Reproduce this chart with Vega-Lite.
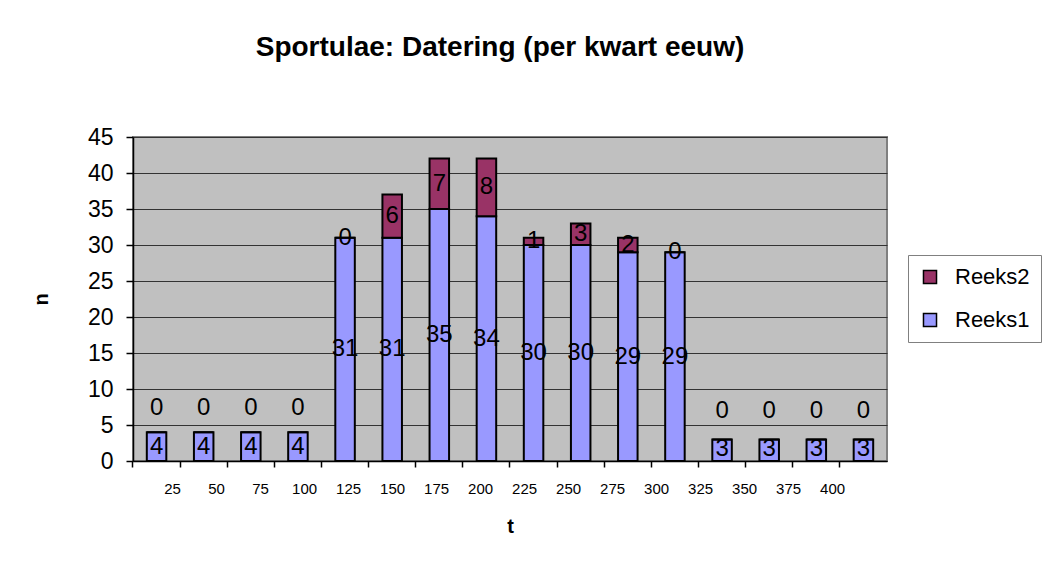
{
  "$schema": "https://vega.github.io/schema/vega-lite/v6.json",
  "width": 754,
  "height": 324,
  "autosize": "none",
  "padding": {"left": 133, "top": 137, "right": 155, "bottom": 124},
  "background": "white",
  "title": {
    "text": "Sportulae: Datering (per kwart eeuw)",
    "font": "Liberation Sans",
    "fontSize": 28,
    "fontWeight": "bold",
    "color": "black",
    "anchor": "middle",
    "dx": -10,
    "offset": 64
  },
  "data": {
    "values": [
      {"t": "25", "Reeks1": 4, "Reeks2": 0},
      {"t": "50", "Reeks1": 4, "Reeks2": 0},
      {"t": "75", "Reeks1": 4, "Reeks2": 0},
      {"t": "100", "Reeks1": 4, "Reeks2": 0},
      {"t": "125", "Reeks1": 31, "Reeks2": 0},
      {"t": "150", "Reeks1": 31, "Reeks2": 6},
      {"t": "175", "Reeks1": 35, "Reeks2": 7},
      {"t": "200", "Reeks1": 34, "Reeks2": 8},
      {"t": "225", "Reeks1": 30, "Reeks2": 1},
      {"t": "250", "Reeks1": 30, "Reeks2": 3},
      {"t": "275", "Reeks1": 29, "Reeks2": 2},
      {"t": "300", "Reeks1": 29, "Reeks2": 0},
      {"t": "325", "Reeks1": 3, "Reeks2": 0},
      {"t": "350", "Reeks1": 3, "Reeks2": 0},
      {"t": "375", "Reeks1": 3, "Reeks2": 0},
      {"t": "400", "Reeks1": 3, "Reeks2": 0}
    ]
  },
  "encoding": {
    "x": {
      "field": "t",
      "type": "ordinal",
      "sort": null,
      "scale": {"paddingInner": 0.586, "paddingOuter": 0.293},
      "axis": {
        "title": "t",
        "titleFont": "Liberation Sans",
        "titleFontSize": 20,
        "titleFontWeight": "bold",
        "titleColor": "black",
        "titlePadding": 20,
        "labelAngle": 0,
        "labelFont": "Liberation Sans",
        "labelFontSize": 15,
        "labelColor": "black",
        "labelPadding": 14,
        "labelOffset": {"expr": "16 - 3.125*(toNumber(datum.value)/25 - 1)"},
        "bandPosition": -0.708,
        "domainColor": "black",
        "domainWidth": 1.5,
        "tickColor": "black",
        "tickSize": 6,
        "tickWidth": 1.5,
        "grid": false
      }
    }
  },
  "layer": [
    {
      "transform": [
        {"fold": ["Reeks1", "Reeks2"], "as": ["series", "value"]}
      ],
      "mark": {"type": "bar", "stroke": "black", "strokeWidth": 2},
      "encoding": {
        "y": {
          "field": "value",
          "type": "quantitative",
          "stack": "zero",
          "scale": {"domain": [0, 45], "nice": false},
          "axis": {
            "title": "n",
            "titleFont": "Liberation Sans",
            "titleFontSize": 20,
            "titleFontWeight": "bold",
            "titleColor": "black",
            "titlePadding": 36,
            "values": [0, 5, 10, 15, 20, 25, 30, 35, 40, 45],
            "labelOverlap": false,
            "labelFont": "Liberation Sans",
            "labelFontSize": 23,
            "labelColor": "black",
            "labelPadding": 13,
            "domainColor": "black",
            "domainWidth": 1.5,
            "tickColor": "black",
            "tickSize": 7,
            "tickWidth": 1.5,
            "grid": true,
            "gridColor": "#333333",
            "gridWidth": 1
          }
        },
        "color": {
          "field": "series",
          "type": "nominal",
          "scale": {"domain": ["Reeks2", "Reeks1"], "range": ["#993366", "#9999FF"]},
          "legend": {
            "title": null,
            "orient": "none",
            "legendX": 775,
            "legendY": 118,
            "labelFont": "Liberation Sans",
            "labelFontSize": 22,
            "labelColor": "black",
            "labelOffset": 14,
            "symbolType": "square",
            "symbolSize": 170,
            "symbolStrokeColor": "black",
            "symbolStrokeWidth": 1.5,
            "symbolOpacity": 1,
            "rowPadding": 21,
            "padding": 11,
            "strokeColor": "#808080",
            "fillColor": "white"
          }
        },
        "order": {"field": "series", "sort": "ascending"}
      }
    },
    {
      "transform": [
        {"calculate": "max(datum.Reeks1 / 2, 1.6)", "as": "r1y"}
      ],
      "mark": {"type": "text", "font": "Liberation Sans", "fontSize": 24, "color": "black", "baseline": "middle", "align": "center"},
      "encoding": {
        "y": {
          "field": "r1y",
          "type": "quantitative",
          "stack": null,
          "axis": {
            "title": "n",
            "titleFont": "Liberation Sans",
            "titleFontSize": 20,
            "titleFontWeight": "bold",
            "titleColor": "black",
            "titlePadding": 36,
            "values": [0, 5, 10, 15, 20, 25, 30, 35, 40, 45],
            "labelOverlap": false,
            "labelFont": "Liberation Sans",
            "labelFontSize": 23,
            "labelColor": "black",
            "labelPadding": 13,
            "domainColor": "black",
            "domainWidth": 1.5,
            "tickColor": "black",
            "tickSize": 7,
            "tickWidth": 1.5,
            "grid": true,
            "gridColor": "#333333",
            "gridWidth": 1
          }
        },
        "text": {"field": "Reeks1", "type": "quantitative"}
      }
    },
    {
      "transform": [
        {"calculate": "max(datum.Reeks1 / 2, 1.6)", "as": "r1y"},
        {"calculate": "max(datum.Reeks1 + datum.Reeks2 / 2, datum.r1y + 5.3)", "as": "r2y"}
      ],
      "mark": {"type": "text", "font": "Liberation Sans", "fontSize": 24, "color": "black", "baseline": "middle", "align": "center"},
      "encoding": {
        "y": {
          "field": "r2y",
          "type": "quantitative",
          "stack": null,
          "axis": {
            "title": "n",
            "titleFont": "Liberation Sans",
            "titleFontSize": 20,
            "titleFontWeight": "bold",
            "titleColor": "black",
            "titlePadding": 36,
            "values": [0, 5, 10, 15, 20, 25, 30, 35, 40, 45],
            "labelOverlap": false,
            "labelFont": "Liberation Sans",
            "labelFontSize": 23,
            "labelColor": "black",
            "labelPadding": 13,
            "domainColor": "black",
            "domainWidth": 1.5,
            "tickColor": "black",
            "tickSize": 7,
            "tickWidth": 1.5,
            "grid": true,
            "gridColor": "#333333",
            "gridWidth": 1
          }
        },
        "text": {"field": "Reeks2", "type": "quantitative"}
      }
    }
  ],
  "config": {
    "view": {"fill": "#c0c0c0", "stroke": "#808080", "strokeWidth": 2},
    "font": "Liberation Sans"
  }
}
